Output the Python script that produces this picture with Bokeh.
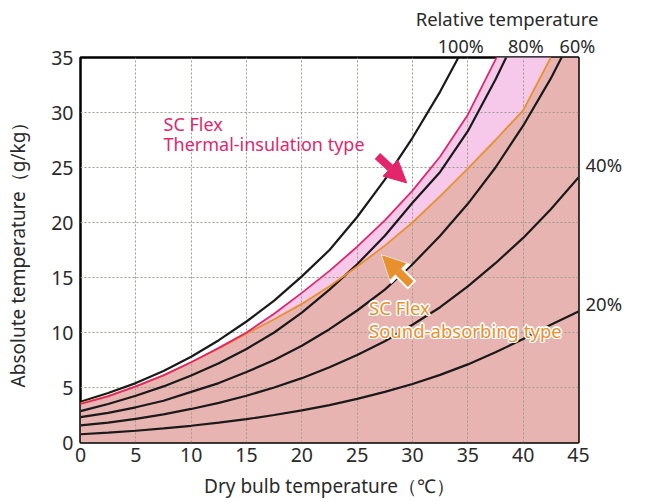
from bokeh.plotting import figure
from bokeh.models import Range1d, Label, Arrow, NormalHead, FixedTicker, LinearAxis
from bokeh.embed import file_html
from bokeh.resources import INLINE

# ---------------- data ----------------
temps = [0, 2.5, 5, 7.5, 10, 12.5, 15, 17.5, 20, 22.5, 25, 27.5, 30, 32.5, 35, 37.5, 40, 42.5, 45]

rh100 = [3.7, 4.5, 5.4, 6.5, 7.8, 9.3, 11.0, 12.9, 15.1, 17.5, 20.5, 23.9, 27.7, 31.9, 36.6]
rh80 = [2.85, 3.5, 4.25, 5.1, 6.1, 7.2, 8.5, 10.0, 11.8, 13.9, 16.2, 18.8, 21.8, 24.6, 28.3, 33.0, 38.2]
rh60 = [2.3, 2.7, 3.2, 3.8, 4.6, 5.4, 6.4, 7.5, 8.8, 10.3, 12.0, 13.9, 16.2, 18.8, 21.7, 25.0, 28.8, 33.1, 38.0]
rh40 = [1.55, 1.8, 2.15, 2.55, 3.05, 3.6, 4.25, 5.0, 5.85, 6.85, 7.95, 9.2, 10.7, 12.3, 14.2, 16.3, 18.6, 21.2, 24.1]
rh20 = [0.75, 0.9, 1.07, 1.28, 1.52, 1.8, 2.12, 2.5, 2.92, 3.4, 3.96, 4.6, 5.32, 6.15, 7.1, 8.2, 9.4, 10.7, 11.9]

thermal = [3.5, 4.2, 5.1, 6.1, 7.3, 8.6, 10.0, 11.7, 13.6, 15.6, 17.8, 20.2, 22.9, 26.0, 29.8, 34.8, 40.5]
sound = [3.55, 4.25, 5.1, 6.1, 7.3, 8.55, 9.9, 11.2, 12.6, 14.2, 16.0, 17.9, 20.0, 22.4, 24.9, 27.5, 30.2, 35.0]

x_ticks = [0, 5, 10, 15, 20, 25, 30, 35, 40, 45]
y_ticks = [0, 5, 10, 15, 20, 25, 30, 35]
X_MIN, X_MAX = 0, 45
Y_MIN, Y_MAX = 0, 35

rh_labels = ["100%", "80%", "60%", "40%", "20%"]

# ---------------- styles ----------------
FONT = "Noto Sans"
TXT = "#2a2a2a"
BLACK = "#1a1a1a"
PINK = "#e3266a"
ORANGE = "#e8902e"
SALMON = "#e8b4b1"
LAVENDER = "#f6c8ea"

# label anchor positions (data units)
TOP_LABEL_X = [34.36, 40.24, 44.9]
RIGHT_LABEL_Y = [25.3, 12.6]

p = figure(x_range=Range1d(X_MIN, X_MAX), y_range=Range1d(Y_MIN, Y_MAX),
           frame_width=498, frame_height=385,
           min_border_left=80, min_border_right=66, min_border_top=57, min_border_bottom=58,
           output_backend="svg", toolbar_location=None,
           background_fill_color="white", border_fill_color="white")

p.outline_line_color = "black"
p.outline_line_width = 2.5

# fills
salmon_x = temps[:len(sound)] + [X_MAX, X_MAX, X_MIN]
salmon_y = sound + [Y_MAX, Y_MIN, Y_MIN]
r1 = p.patch(salmon_x, salmon_y, fill_color=SALMON, line_color=None)
r1.level = "image"

lav_x = temps[:len(thermal)] + temps[:len(sound)][::-1]
lav_y = thermal + sound[::-1]
r2 = p.patch(lav_x, lav_y, fill_color=LAVENDER, line_color=None)
r2.level = "image"

# curves
for series in [rh100, rh80, rh60, rh40, rh20]:
    p.line(temps[:len(series)], series, line_color=BLACK, line_width=2.2)
p.line(temps[:len(sound)], sound, line_color=ORANGE, line_width=1.8)
p.line(temps[:len(thermal)], thermal, line_color=PINK, line_width=1.8)

# grid
p.grid.grid_line_color = "#9c9c8c"
p.grid.grid_line_dash = "2 2"
p.grid.grid_line_width = 1

def style_axis(ax, size="19.5px"):
    ax.axis_line_color = None
    ax.major_tick_line_color = None
    ax.minor_tick_line_color = None
    ax.major_tick_out = 0
    ax.major_tick_in = 0
    ax.major_label_text_font = FONT
    ax.major_label_text_font_size = size
    ax.major_label_text_color = TXT
    ax.axis_label_text_font = FONT
    ax.axis_label_text_font_size = "19px"
    ax.axis_label_text_font_style = "normal"
    ax.axis_label_text_color = TXT

xax = p.xaxis[0]
yax = p.yaxis[0]
xax.ticker = FixedTicker(ticks=x_ticks)
yax.ticker = FixedTicker(ticks=y_ticks)
style_axis(xax)
style_axis(yax)
xax.axis_label = "Dry bulb temperature（℃）"
yax.axis_label = "Absolute temperature（g/kg）"
xax.major_label_standoff = 5
xax.axis_label_standoff = 8
yax.major_label_standoff = 7
yax.axis_label_standoff = 17

# relative-humidity labels as secondary axes
top_ax = LinearAxis(ticker=FixedTicker(ticks=TOP_LABEL_X),
                    major_label_overrides={TOP_LABEL_X[i]: rh_labels[i] for i in range(3)})
style_axis(top_ax, "18px")
top_ax.major_label_standoff = 0
p.add_layout(top_ax, "above")

right_ax = LinearAxis(ticker=FixedTicker(ticks=RIGHT_LABEL_Y),
                      major_label_overrides={RIGHT_LABEL_Y[0]: rh_labels[3], RIGHT_LABEL_Y[1]: rh_labels[4]})
style_axis(right_ax, "18.5px")
right_ax.major_label_standoff = 7
p.add_layout(right_ax, "right")

p.title.text = "Relative temperature"
p.title.align = "right"
p.title.offset = -20
p.title.text_font = FONT
p.title.text_font_size = "18.5px"
p.title.text_font_style = "normal"
p.title.text_color = TXT
p.title.standoff = 0

def lab(x, y, t, color=TXT, size="17px", align="left", **kw):
    l = Label(x=x, y=y, text=t, text_font=FONT, text_font_size=size, text_color=color,
              text_align=align, text_baseline="middle", **kw)
    p.add_layout(l)
    return l

# thermal-insulation annotation
lab(7.5, 29.0, "SC Flex", color=PINK, size="18px")
lab(7.5, 27.1, "Thermal-insulation type", color=PINK, size="18px")
p.add_layout(Arrow(end=NormalHead(size=22, fill_color=PINK, line_color=PINK),
                   x_start=26.83, y_start=26.04, x_end=29.48, y_end=23.6,
                   line_color=PINK, line_width=8))

# sound-absorbing annotation (white halo)
p.add_layout(Arrow(end=NormalHead(size=27, fill_color="white", line_color="white"),
                   x_start=29.95, y_start=14.3, x_end=27.2, y_end=17.05,
                   line_color="white", line_width=12))
p.add_layout(Arrow(end=NormalHead(size=22, fill_color=ORANGE, line_color=ORANGE),
                   x_start=29.84, y_start=14.4, x_end=27.28, y_end=16.97,
                   line_color=ORANGE, line_width=8))
offs = [(-1.5, 0), (1.5, 0), (0, -1.5), (0, 1.5), (-1, -1), (1, 1), (-1, 1), (1, -1)]
for t, yy in [("SC Flex", 12.3), ("Sound-absorbing type", 10.2)]:
    for dx, dy in offs:
        lab(26.07, yy, t, color="white", size="18.5px", x_offset=dx, y_offset=dy)
    lab(26.07, yy, t, color=ORANGE, size="18.5px")

open("out.html", "w").write(file_html(p, INLINE))
